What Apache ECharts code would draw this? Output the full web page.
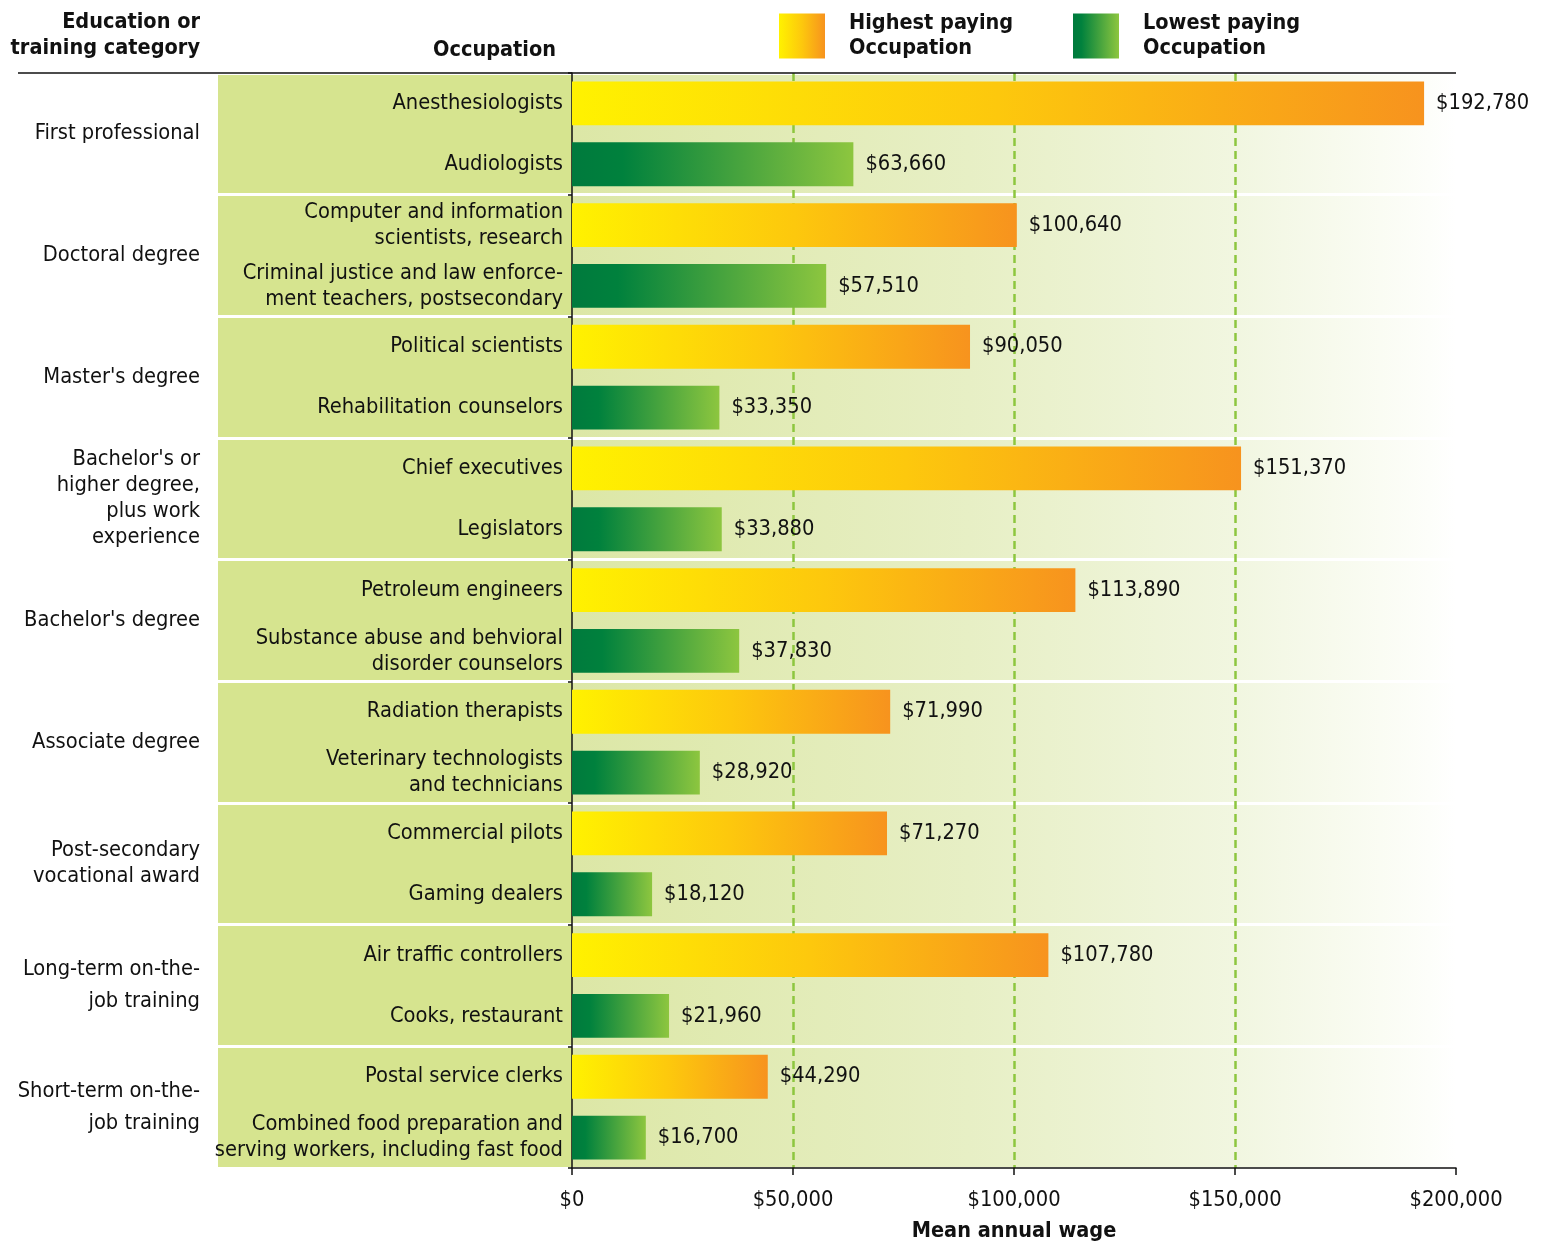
<!DOCTYPE html>
<html><head><meta charset="utf-8">
<script src="https://cdn.jsdelivr.net/npm/echarts@6/dist/echarts.min.js"></script>
<style>html,body{margin:0;padding:0;background:#fff}#c{width:1549px;height:1242px}</style>
</head><body><div id="c"></div>
<script>
const groups = ['First professional', 'Doctoral degree', "Master's degree",
  "Bachelor's or\nhigher degree,\nplus work\nexperience", "Bachelor's degree", 'Associate degree',
  'Post-secondary\nvocational award', 'Long-term on-the-\njob training', 'Short-term on-the-\njob training'];
const occupations = ['Anesthesiologists', 'Audiologists',
  'Computer and information\nscientists, research', 'Criminal justice and law enforce-\nment teachers, postsecondary',
  'Political scientists', 'Rehabilitation counselors',
  'Chief executives', 'Legislators',
  'Petroleum engineers', 'Substance abuse and behvioral\ndisorder counselors',
  'Radiation therapists', 'Veterinary technologists\nand technicians',
  'Commercial pilots', 'Gaming dealers',
  'Air traffic controllers', 'Cooks, restaurant',
  'Postal service clerks', 'Combined food preparation and\nserving workers, including fast food'];
const highest = [192780, 100640, 90050, 151370, 113890, 71990, 71270, 107780, 44290];
const lowest = [63660, 57510, 33350, 33880, 37830, 28920, 18120, 21960, 16700];
const xTickValues = [0, 50000, 100000, 150000, 200000];
const seriesNames = ['Highest paying Occupation', 'Lowest paying Occupation'];

const FONT = "'Liberation Sans Narrow', 'Arial Narrow', 'DejaVu Sans Condensed', sans-serif";
const FS = 21.7;
const money = v => '$' + Number(v).toLocaleString('en-US');

const highData = [], lowData = [];
occupations.forEach((o, i) => {
  const g = Math.floor(i / 2);
  highData.push(i % 2 === 0 ? highest[g] : null);
  lowData.push(i % 2 === 1 ? lowest[g] : null);
});

const highGrad = new echarts.graphic.LinearGradient(0, 0, 1, 0, [
  {offset: 0, color: '#fff200'}, {offset: 0.5, color: '#fdc80d'}, {offset: 1, color: '#f7931e'}]);
const lowGrad = new echarts.graphic.LinearGradient(0, 0, 1, 0, [
  {offset: 0, color: '#007a3d'}, {offset: 0.18, color: '#00813d'}, {offset: 1, color: '#8dc63f'}]);

const groupData = groups.map(g => ({value: g, textStyle: {lineHeight: g.indexOf('on-the-') >= 0 ? 32 : 26}}));

const boldText = {fontFamily: FONT, fontSize: 21.5, lineHeight: 26, fontWeight: 'bold', color: '#111'};

const chart = echarts.init(document.getElementById('c'), null, {renderer: 'canvas'});
const option = {
  animation: false,
  textStyle: {fontFamily: FONT},
  title: [
    {text: 'Education or\ntraining category', left: 200, top: 9, textAlign: 'right', padding: 0,
     textStyle: boldText},
    {text: 'Occupation', left: 556, top: 37, textAlign: 'right', padding: 0,
     textStyle: boldText}
  ],
  legend: [
    {data: [seriesNames[0]], left: 779, top: 11, padding: 0, itemWidth: 46, itemHeight: 45, icon: 'rect',
     formatter: n => n.replace(' Occupation', '\nOccupation'),
     textStyle: {fontFamily: FONT, fontSize: 21.5, lineHeight: 25, fontWeight: 'bold', color: '#111', padding: [0, 0, 0, 19]}},
    {data: [seriesNames[1]], left: 1073, top: 11, padding: 0, itemWidth: 46, itemHeight: 45, icon: 'rect',
     formatter: n => n.replace(' Occupation', '\nOccupation'),
     textStyle: {fontFamily: FONT, fontSize: 21.5, lineHeight: 25, fontWeight: 'bold', color: '#111', padding: [0, 0, 0, 19]}}
  ],
  grid: [
    {left: 218, right: 977, top: 73, bottom: 74, show: true, backgroundColor: '#d6e48f', borderWidth: 0,
     outerBoundsMode: 'none', containLabel: false},
    {left: 572, right: 93, top: 73, bottom: 74, show: true, borderWidth: 0,
     outerBoundsMode: 'none', containLabel: false,
     backgroundColor: new echarts.graphic.LinearGradient(0, 0, 1, 0, [
       {offset: 0, color: '#dce7a6'}, {offset: 0.45, color: '#e7efc5'}, {offset: 0.75, color: '#f1f6e0'}, {offset: 0.97, color: '#fdfefa'}, {offset: 1, color: '#ffffff'}])}
  ],
  xAxis: [
    {gridIndex: 0, type: 'value', show: false, min: 0, max: 1},
    {gridIndex: 1, type: 'value', min: 0, max: 200000, interval: 50000,
     axisLine: {show: true, lineStyle: {color: '#111', width: 1.5}},
     axisTick: {show: true, length: 7, lineStyle: {color: '#111', width: 1.5}},
     axisLabel: {margin: 21, fontFamily: FONT, fontSize: FS, color: '#111', formatter: v => money(v)},
     splitLine: {show: true, showMinLine: false, showMaxLine: false,
       lineStyle: {color: '#8dc63f', width: 2.5, type: [8, 5]}},
     name: 'Mean annual wage', nameLocation: 'middle', nameGap: 52,
     nameTextStyle: {fontFamily: FONT, fontSize: 21.5, fontWeight: 'bold', color: '#111'}}
  ],
  yAxis: [
    {gridIndex: 0, type: 'category', data: groupData, inverse: true,
     axisLine: {show: false}, axisTick: {show: false},
     axisLabel: {margin: 18, fontFamily: FONT, fontSize: FS, lineHeight: 26, color: '#111', align: 'right'},
     splitLine: {show: true, lineStyle: {color: '#ffffff', width: 3}}},
    {gridIndex: 1, type: 'category', data: occupations, inverse: true,
     axisLine: {show: true, lineStyle: {color: '#111', width: 1.5}},
     axisTick: {show: true, length: 4, interval: (i) => i % 2 === 0, lineStyle: {color: '#111', width: 1.5}},
     axisLabel: {margin: 9, interval: 0, fontFamily: FONT, fontSize: FS, lineHeight: 26, color: '#111', align: 'right'},
     splitLine: {show: true, interval: (i) => i % 2 === 0, lineStyle: {color: '#ffffff', width: 3}}}
  ],
  series: [
    {name: seriesNames[0], type: 'bar', xAxisIndex: 1, yAxisIndex: 1, data: highData,
     barWidth: '72%', barGap: '-100%', itemStyle: {color: highGrad},
     label: {show: true, position: 'right', distance: 12, fontFamily: FONT, fontSize: FS, color: '#111',
       formatter: p => money(p.value)}},
    {name: seriesNames[1], type: 'bar', xAxisIndex: 1, yAxisIndex: 1, data: lowData,
     barWidth: '72%', barGap: '-100%', itemStyle: {color: lowGrad},
     label: {show: true, position: 'right', distance: 12, fontFamily: FONT, fontSize: FS, color: '#111',
       formatter: p => money(p.value)}}
  ]
};
chart.setOption(option);
const rect = chart.getModel().getComponent('grid', 1).coordinateSystem.getRect();
chart.setOption({graphic: [{type: 'line', z: 100,
  shape: {x1: 18, y1: rect.y, x2: rect.x + rect.width, y2: rect.y},
  style: {stroke: '#111', lineWidth: 1.5}}]});
</script>
</body></html>
